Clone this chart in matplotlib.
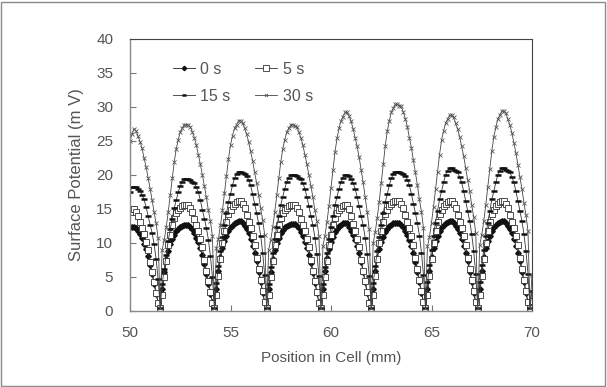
import numpy as np
import matplotlib
matplotlib.use("Agg")
from matplotlib import pyplot as plt
from matplotlib.patches import Rectangle

# scan positions, 0.1 mm step
position = np.round(np.arange(50.0, 70.05, 0.1), 1)

pot_0s = [12.4, 12.4, 12.4, 12.2, 11.8, 11.3, 10.7, 9.9, 9.1, 8.1, 6.8, 5.5, 4.0, 2.5, 1.2, 0.5,
          3.2, 5.7, 7.6, 8.8, 9.8, 10.6, 11.2, 11.7, 12.1, 12.3, 12.5, 12.6, 12.6,
          12.6, 12.3, 12.0, 11.5, 10.8, 10.1, 9.2, 8.2, 6.9, 5.5, 4.0, 2.5, 1.3, 0.5,
          3.3, 5.9, 7.9, 9.2, 10.3, 11.1, 11.7, 12.3, 12.7, 12.9, 13.1, 13.2, 13.2,
          12.9, 12.5, 12.0, 11.4, 10.6, 9.6, 8.6, 7.3, 5.8, 4.2, 2.6, 1.3, 0.5,
          3.2, 5.8, 7.7, 9.0, 10.0, 10.8, 11.4, 11.9, 12.3, 12.5, 12.7, 12.8, 12.8,
          12.8, 12.5, 12.2, 11.6, 11.0, 10.2, 9.3, 8.3, 7.0, 5.6, 4.1, 2.6, 1.3, 0.5,
          3.3, 5.9, 7.8, 9.1, 10.1, 10.9, 11.6, 12.1, 12.5, 12.7, 12.9, 13.0, 13.0,
          12.4, 11.8, 11.2, 10.4, 9.5, 8.5, 7.2, 5.7, 4.2, 2.6, 1.3, 0.5,
          3.3, 5.9, 7.8, 9.1, 10.1, 10.9, 11.6, 12.1, 12.5, 12.7, 12.9, 13.0, 13.0,
          13.0, 12.7, 12.4, 11.8, 11.2, 10.4, 9.5, 8.5, 7.2, 5.7, 4.2, 2.6, 1.3, 0.5,
          3.3, 5.9, 7.9, 9.2, 10.3, 11.1, 11.7, 12.3, 12.7, 12.9, 13.1, 13.2, 13.2,
          12.9, 12.5, 12.0, 11.4, 10.6, 9.6, 8.6, 7.3, 5.8, 4.2, 2.6, 1.3, 0.5,
          3.3, 5.9, 7.9, 9.2, 10.3, 11.1, 11.7, 12.3, 12.7, 12.9, 13.1, 13.2, 13.2,
          12.9, 12.5, 12.0, 11.4, 10.6, 9.6, 8.6, 7.3, 5.8, 4.2, 2.6, 1.3, 0.5,
          1.0]

pot_5s = [14.5, 15.0, 15.0, 14.6, 14.0, 13.1, 12.2, 11.3, 10.2, 9.0, 7.2, 5.7, 4.2, 2.7, 1.2, 0.5,
          2.3, 5.0, 7.3, 9.7, 11.2, 12.6, 13.7, 14.4, 14.8, 15.1, 15.4, 15.6, 15.6,
          15.6, 15.1, 14.5, 13.6, 12.6, 11.7, 10.6, 9.4, 7.5, 5.9, 4.4, 2.8, 1.2, 0.5,
          2.4, 5.2, 7.6, 10.0, 11.7, 13.1, 14.3, 14.9, 15.4, 15.7, 16.0, 16.2, 16.2,
          15.7, 15.1, 14.1, 13.1, 12.2, 11.0, 9.7, 7.8, 6.2, 4.5, 2.9, 1.3, 0.5,
          2.3, 5.0, 7.3, 9.7, 11.2, 12.6, 13.7, 14.4, 14.8, 15.1, 15.4, 15.6, 15.6,
          15.6, 15.1, 14.5, 13.6, 12.6, 11.7, 10.6, 9.4, 7.5, 5.9, 4.4, 2.8, 1.2, 0.5,
          2.3, 5.0, 7.3, 9.7, 11.2, 12.6, 13.7, 14.4, 14.8, 15.1, 15.4, 15.6, 15.6,
          15.0, 13.9, 12.8, 11.7, 10.6, 9.4, 7.5, 5.9, 4.4, 2.8, 1.2, 0.5,
          2.4, 5.2, 7.6, 10.0, 11.7, 13.1, 14.3, 14.9, 15.4, 15.7, 16.0, 16.2, 16.2,
          16.2, 15.7, 15.1, 14.1, 13.1, 12.2, 11.0, 9.7, 7.8, 6.2, 4.5, 2.9, 1.3, 0.5,
          2.4, 5.2, 7.6, 10.0, 11.7, 13.1, 14.3, 14.9, 15.4, 15.7, 16.0, 16.2, 16.2,
          15.7, 15.1, 14.1, 13.1, 12.2, 11.0, 9.7, 7.8, 6.2, 4.5, 2.9, 1.3, 0.5,
          2.4, 5.2, 7.6, 10.0, 11.7, 13.1, 14.3, 14.9, 15.4, 15.7, 16.0, 16.2, 16.2,
          15.7, 15.1, 14.1, 13.1, 12.2, 11.0, 9.7, 7.8, 6.2, 4.5, 2.9, 1.3, 0.5,
          1.5]

pot_15s = [17.5, 18.2, 18.2, 18.2, 18.0, 17.7, 17.1, 16.4, 15.3, 14.0, 12.7, 11.5, 9.8, 7.6, 4.7, 0.5,
           3.9, 6.2, 8.3, 10.3, 12.0, 13.6, 15.1, 16.3, 17.5, 18.4, 19.0, 19.4, 19.4,
           19.4, 19.2, 19.0, 18.8, 18.2, 17.5, 16.3, 14.9, 13.6, 12.2, 10.5, 8.1, 5.0, 0.5,
           4.1, 6.6, 8.8, 10.9, 12.7, 14.4, 16.0, 17.2, 18.5, 19.5, 20.1, 20.5, 20.5,
           20.3, 20.1, 19.9, 19.3, 18.5, 17.2, 15.8, 14.4, 12.9, 11.1, 8.6, 5.3, 0.5,
           4.0, 6.4, 8.6, 10.6, 12.4, 14.0, 15.6, 16.8, 18.0, 19.0, 19.6, 20.0, 20.0,
           20.0, 19.8, 19.6, 19.4, 18.8, 18.0, 16.8, 15.4, 14.0, 12.6, 10.8, 8.4, 5.2, 0.5,
           4.0, 6.4, 8.6, 10.6, 12.4, 14.0, 15.6, 16.8, 18.0, 19.0, 19.6, 20.0, 20.0,
           19.8, 19.4, 18.8, 18.0, 16.8, 15.4, 14.0, 12.6, 10.8, 8.4, 5.2, 0.5,
           4.1, 6.6, 8.8, 10.9, 12.7, 14.4, 16.0, 17.2, 18.5, 19.5, 20.1, 20.5, 20.5,
           20.5, 20.3, 20.1, 19.9, 19.3, 18.5, 17.2, 15.8, 14.4, 12.9, 11.1, 8.6, 5.3, 0.5,
           4.2, 6.7, 9.0, 11.1, 13.0, 14.7, 16.4, 17.6, 18.9, 20.0, 20.6, 21.0, 21.0,
           20.8, 20.6, 20.4, 19.7, 18.9, 17.6, 16.2, 14.7, 13.2, 11.3, 8.8, 5.5, 0.5,
           4.2, 6.7, 9.0, 11.1, 13.0, 14.7, 16.4, 17.6, 18.9, 20.0, 20.6, 21.0, 21.0,
           20.8, 20.6, 20.4, 19.7, 18.9, 17.6, 16.2, 14.7, 13.2, 11.3, 8.8, 5.5, 0.5,
           3.0]

pot_30s = [25.0, 26.0, 26.8, 26.5, 25.7, 24.9, 23.9, 22.5, 21.2, 19.6, 18.0, 16.3, 14.5, 12.9, 10.7, 0.5,
           9.0, 10.4, 12.3, 14.5, 17.0, 19.5, 21.9, 23.8, 25.2, 26.3, 26.9, 27.4, 27.4,
           27.3, 27.1, 26.3, 25.5, 24.4, 23.0, 21.6, 20.0, 18.4, 16.7, 14.8, 13.2, 11.0, 0.5,
           9.2, 10.6, 12.6, 14.8, 17.4, 19.9, 22.4, 24.4, 25.8, 26.9, 27.4, 28.0, 28.0,
           27.7, 26.9, 26.0, 24.9, 23.5, 22.1, 20.4, 18.8, 17.1, 15.1, 13.4, 11.2, 0.5,
           9.0, 10.4, 12.3, 14.5, 17.0, 19.5, 21.9, 23.8, 25.2, 26.3, 26.9, 27.4, 27.4,
           27.2, 27.1, 26.3, 25.5, 24.4, 23.0, 21.6, 20.0, 18.4, 16.7, 14.8, 13.2, 11.0, 0.5,
           9.6, 11.1, 13.1, 15.5, 18.1, 20.7, 23.4, 25.4, 26.9, 28.0, 28.6, 29.2, 29.2,
           28.7, 27.9, 26.8, 25.5, 24.2, 22.6, 20.8, 18.9, 16.8, 14.6, 12.0, 0.5,
           10.0, 11.6, 13.7, 16.1, 18.8, 21.6, 24.3, 26.4, 28.0, 29.2, 29.8, 30.4, 30.4,
           30.2, 30.1, 29.2, 28.3, 27.1, 25.5, 24.0, 22.2, 20.4, 18.5, 16.4, 14.6, 12.2, 0.5,
           9.5, 10.9, 13.0, 15.3, 17.9, 20.4, 23.0, 25.1, 26.5, 27.6, 28.2, 28.8, 28.8,
           28.5, 27.6, 26.8, 25.6, 24.2, 22.8, 21.0, 19.3, 17.6, 15.6, 13.8, 11.5, 0.5,
           9.7, 11.2, 13.2, 15.6, 18.2, 20.9, 23.5, 25.6, 27.0, 28.2, 28.8, 29.4, 29.4,
           29.1, 28.2, 27.3, 26.2, 24.7, 23.2, 21.5, 19.7, 17.9, 15.9, 14.1, 11.8, 0.5,
           5.3]

labels = ["0 s", "5 s", "15 s", "30 s"]

plt.rcParams["font.family"] = "Liberation Sans"
text_color = "#555555"
fig = plt.figure(figsize=(6.07, 3.87), dpi=100)
fig.patches.append(Rectangle((0.002, 0.003), 0.995, 0.993, transform=fig.transFigure,
                             fill=False, edgecolor="#8a8a8a", linewidth=1.0))
ax = fig.add_axes([130 / 607, 1 - 311 / 387, 402 / 607, 272 / 387])

lw = 0.6
h0, = ax.plot(position, pot_0s, color="#222222", lw=lw, marker="D", ms=2.8,
              mfc="#111111", mec="#111111", label=labels[0])
h5, = ax.plot(position, pot_5s, color="#333333", lw=lw, marker="s", ms=4.8,
              mfc="white", mec="#333333", mew=0.6, label=labels[1])
h15, = ax.plot(position, pot_15s, color="#333333", lw=lw, marker="_", ms=4.2,
               mew=1.8, mec="#111111", label=labels[2])
h30, = ax.plot(position, pot_30s, color="#444444", lw=lw, marker="x", ms=2.6,
               mew=0.6, mec="#555555", label=labels[3])

ax.set_xlim(50, 70)
ax.set_ylim(0, 40)
ax.set_xticks([50, 55, 60, 65, 70])
ax.set_yticks(range(0, 41, 5))
ax.tick_params(direction="in", length=4, color="#777777", labelcolor=text_color, labelsize=11)
ax.tick_params(axis="x", pad=11)
ax.tick_params(axis="y", pad=12)
for side in ["left", "bottom"]:
    ax.spines[side].set_color("#8a8a8a")
    ax.spines[side].set_linewidth(1.0)
for side in ["top", "right"]:
    ax.spines[side].set_color("#444444")
    ax.spines[side].set_linewidth(0.8)

ax.set_xlabel("Position in Cell (mm)", fontsize=11, color=text_color, labelpad=8)
ax.set_ylabel("Surface Potential (m V)", fontsize=12, color=text_color, labelpad=9)

leg = ax.legend([h0, h15, h5, h30], [labels[0], labels[2], labels[1], labels[3]], ncol=2,
                frameon=False, loc="upper left", bbox_to_anchor=(0.07, 0.97), fontsize=11.5,
                handlelength=1.4, handletextpad=0.35, columnspacing=1.5, labelspacing=0.75,
                labelcolor=text_color, markerscale=0.8)

fig.savefig("out.png", dpi=100)
